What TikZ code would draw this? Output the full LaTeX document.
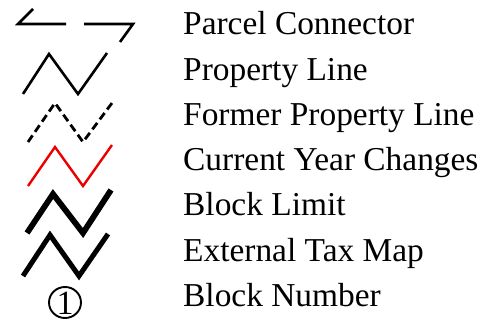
\documentclass[tikz,border=0pt]{standalone}
\usepackage{fontspec}
\setmainfont{Liberation Serif}
\usetikzlibrary{shapes.geometric}
\begin{document}
\begin{tikzpicture}[x=1pt,y=-1pt,
  label/.style={anchor=base west,inner sep=0pt,font=\fontsize{33.4}{40}\selectfont},
  thinline/.style={line width=2.6pt,line join=miter},
  dashline/.style={line width=2.8pt,dash pattern=on 8pt off 4.36pt},
  redline/.style={line width=2.4pt,draw={rgb,255:red,235;green,0;blue,0}},
  thickline/.style={line width=5.8pt},
  extline/.style={line width=5pt}]
\useasboundingbox (0,0) rectangle (485,326);
% Parcel Connector
\draw[thinline] (33,9) -- (18,24) -- (66,24);
\draw[thinline] (84,24) -- (133,24) -- (120,42);
% Property Line
\draw[thinline] (23,94) -- (49,54) -- (78,94) -- (107,53);
% Former Property Line
\draw[dashline] (28,142) -- (55,103) -- (83,142) -- (112,103);
% Current Year Changes
\draw[redline] (28,186) -- (55,147) -- (83,186) -- (112,145);
% Block Limit
\draw[thickline] (27,233) -- (53,194) -- (83,233) -- (111,190);
% External Tax Map
\draw[extline] (23,276) -- (50,235) -- (79,276) -- (108,234);
% Block Number
\node[draw,ellipse,line width=1.9pt,minimum width=32pt,minimum height=31pt,inner sep=0pt] (bn) at (65,302.5) {};
\node[anchor=base,inner sep=0pt,font=\fontsize{34}{40}\selectfont] (bnum) at (65,314) {1};
% labels
\node[label] (t1) at (183,35) {Parcel Connector};
\node[label] (t2) at (183,80.2) {Property Line};
\node[label] (t3) at (183,125.4) {Former Property Line};
\node[label] (t4) at (183,170.6) {Current Year Changes};
\node[label] (t5) at (183,215.8) {Block Limit};
\node[label] (t6) at (183,261) {External Tax Map};
\node[label] (t7) at (183,306.2) {Block Number};
\end{tikzpicture}
\end{document}
